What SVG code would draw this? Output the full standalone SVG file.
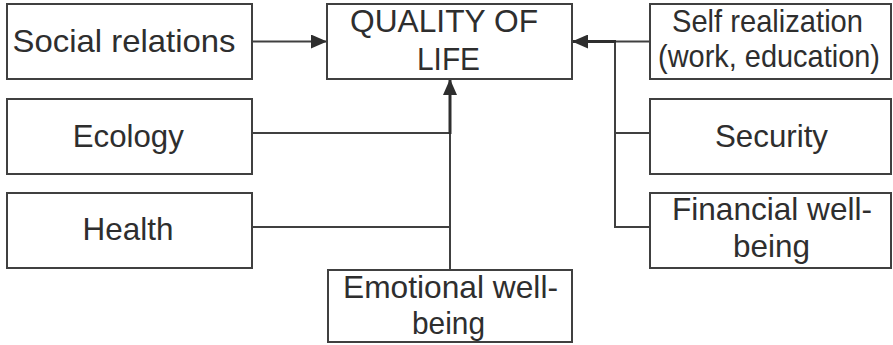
<svg xmlns="http://www.w3.org/2000/svg" width="893" height="345" viewBox="0 0 893 345">
  <style>
    .box { fill: #ffffff; stroke: #404040; stroke-width: 2; }
    .lbl { font-family: "Liberation Sans", Arial, sans-serif; font-size: 32px; fill: #2e2e2e; text-anchor: middle; }
    .ln { fill: none; stroke: #404040; stroke-width: 2; }
    .ln-bold { fill: none; stroke: #2e2e2e; stroke-width: 3; }
  </style>
  <defs>
    <marker id="head" viewBox="0 0 16 14" refX="16" refY="7" markerWidth="16" markerHeight="14" markerUnits="userSpaceOnUse" orient="auto">
      <path d="M0,0 L16,7 L0,14 z" fill="#2e2e2e"/>
    </marker>
  </defs>
  <rect width="893" height="345" fill="#ffffff"/>

  <g id="connectors">
    <!-- Social relations -> Quality of life -->
    <line class="ln" x1="252" y1="41.5" x2="327" y2="41.5" marker-end="url(#head)"/>
    <!-- left branches join the central trunk -->
    <polyline class="ln" points="252,133 450,133"/>
    <polyline class="ln" points="252,227 450,227"/>
    <line class="ln" x1="450" y1="270" x2="450" y2="133"/>
    <line class="ln-bold" x1="450" y1="134" x2="450" y2="79" marker-end="url(#head)"/>
    <!-- right branches join the right trunk -->
    <polyline class="ln" points="650,41.5 615,41.5"/>
    <polyline class="ln" points="615,41.5 615,227 650,227"/>
    <line class="ln" x1="615" y1="133" x2="650" y2="133"/>
    <line class="ln-bold" x1="616" y1="41.5" x2="572" y2="41.5" marker-end="url(#head)"/>
  </g>

  <g id="quality-of-life">
    <rect class="box" x="327" y="4" width="245" height="75"/>
    <text class="lbl" x="444" y="32" textLength="188" lengthAdjust="spacingAndGlyphs">QUALITY OF</text>
    <text class="lbl" x="448.5" y="70" textLength="63" lengthAdjust="spacingAndGlyphs">LIFE</text>
  </g>

  <g id="social-relations">
    <rect class="box" x="7" y="4" width="245" height="75"/>
    <text class="lbl" x="124" y="52" textLength="223" lengthAdjust="spacingAndGlyphs">Social relations</text>
  </g>

  <g id="ecology">
    <rect class="box" x="7" y="99" width="245" height="75"/>
    <text class="lbl" x="128.3" y="147" textLength="111" lengthAdjust="spacingAndGlyphs">Ecology</text>
  </g>

  <g id="health">
    <rect class="box" x="7" y="193" width="245" height="75"/>
    <text class="lbl" x="128" y="240" textLength="91" lengthAdjust="spacingAndGlyphs">Health</text>
  </g>

  <g id="emotional-well-being">
    <rect class="box" x="328" y="270" width="244" height="72"/>
    <text class="lbl" x="450.5" y="298" textLength="215" lengthAdjust="spacingAndGlyphs">Emotional well-</text>
    <text class="lbl" x="448.5" y="334" textLength="73" lengthAdjust="spacingAndGlyphs">being</text>
  </g>

  <g id="self-realization">
    <rect class="box" x="650" y="4" width="241" height="75"/>
    <text class="lbl" x="767.5" y="32" textLength="191" lengthAdjust="spacingAndGlyphs">Self realization</text>
    <text class="lbl" x="769" y="67" font-size="30" textLength="222" lengthAdjust="spacingAndGlyphs">(work, education)</text>
  </g>

  <g id="security">
    <rect class="box" x="650" y="99" width="241" height="75"/>
    <text class="lbl" x="771.5" y="147" textLength="113" lengthAdjust="spacingAndGlyphs">Security</text>
  </g>

  <g id="financial-well-being">
    <rect class="box" x="650" y="193" width="241" height="75"/>
    <text class="lbl" x="772" y="220" textLength="200" lengthAdjust="spacingAndGlyphs">Financial well-</text>
    <text class="lbl" x="771.5" y="257" textLength="77" lengthAdjust="spacingAndGlyphs">being</text>
  </g>
</svg>
